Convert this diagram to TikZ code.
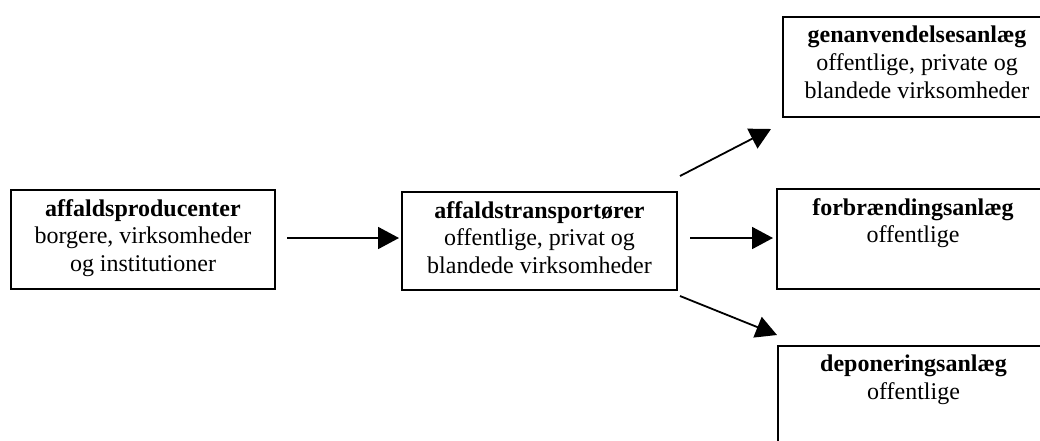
\documentclass[tikz,border=0pt]{standalone}
\usepackage{fontspec}
\setmainfont{Liberation Serif}
\usetikzlibrary{arrows.meta}
\begin{document}
\begin{tikzpicture}[x=1pt,y=-1pt,
  boxnode/.style={draw=black,line width=2pt,rectangle,inner sep=0pt},
  txt/.style={anchor=north,align=center,inner sep=0pt,font=\fontsize{24}{27.8}\selectfont},
  flow/.style={line width=1.8pt,-{Triangle[length=21pt,width=22pt]}}]
\clip (0,0) rectangle (1040,440);
\fill[white] (0,0) rectangle (1040,440);
% boxes
\node[boxnode,minimum width=264pt,minimum height=99pt] (b1) at (143,239.5) {};
\node[boxnode,minimum width=275pt,minimum height=98pt] (b2) at (539.5,241) {};
\node[boxnode,minimum width=268pt,minimum height=100pt] (b3) at (917,67) {};
\node[boxnode,minimum width=272pt,minimum height=100pt] (b4) at (913,239) {};
\node[boxnode,minimum width=271pt,minimum height=100pt] (b5) at (913.5,396) {};
% texts
\node[txt] (t1) at ([yshift=-10pt]b1.north) {\textbf{affaldsproducenter}\\borgere, virksomheder\\og institutioner};
\node[txt] (t2) at ([yshift=-10pt]b2.north) {\textbf{affaldstransportører}\\offentlige, privat og\\blandede virksomheder};
\node[txt] (t3) at ([yshift=-10pt]b3.north) {\textbf{genanvendelsesanlæg}\\offentlige, private og\\blandede virksomheder};
\node[txt] (t4) at ([yshift=-10pt]b4.north) {\textbf{forbrændingsanlæg}\\offentlige};
\node[txt] (t5) at ([yshift=-10pt]b5.north) {\textbf{deponeringsanlæg}\\offentlige};
% arrow end points
\coordinate (a1s) at (287,238);
\coordinate (a1e) at (399,238);
\coordinate (a2s) at (680,176);
\coordinate (a2e) at (771,129);
\coordinate (a3s) at (690,238);
\coordinate (a3e) at (773,238);
\coordinate (a4s) at (680,296);
\coordinate (a4e) at (777,335);
\draw[flow] (a1s) -- (a1e);
\draw[flow] (a2s) -- (a2e);
\draw[flow] (a3s) -- (a3e);
\draw[flow] (a4s) -- (a4e);
\end{tikzpicture}
\end{document}
